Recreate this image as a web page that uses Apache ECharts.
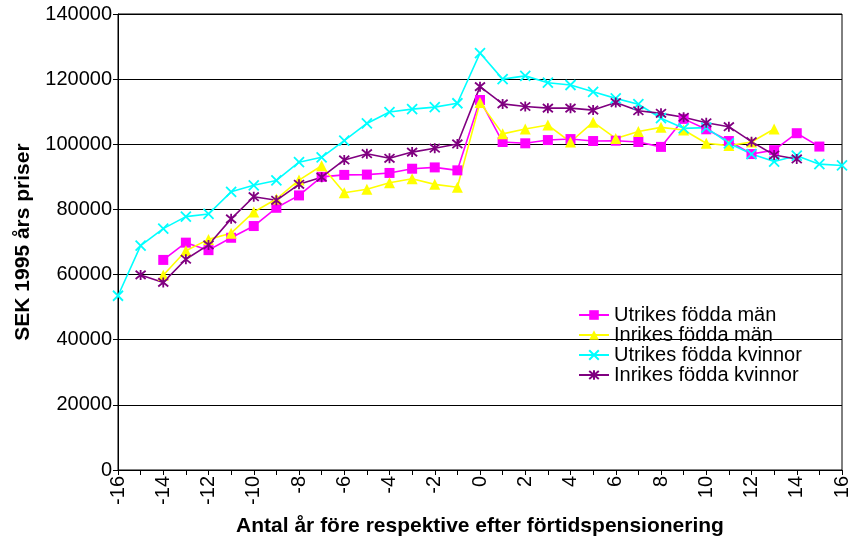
<!DOCTYPE html>
<html><head><meta charset="utf-8">
<script src="https://cdn.jsdelivr.net/npm/echarts@6/dist/echarts.min.js"></script>
<style>html,body{margin:0;padding:0;background:#fff}#c{width:853px;height:545px}</style>
</head><body><div id="c"></div>
<script>
const years = [-16,-15,-14,-13,-12,-11,-10,-9,-8,-7,-6,-5,-4,-3,-2,-1,0,1,2,3,4,5,6,7,8,9,10,11,12,13,14,15,16];
const utrikesMan = [null,null,64500,69800,67500,71300,74900,80500,84300,90000,90600,90700,91200,92500,92900,92000,113600,100700,100300,101300,101600,101000,101100,100700,99200,107800,104600,101000,97000,98200,103400,99300,null];
const inrikesMan = [null,null,59800,67300,70800,72700,79200,83200,89000,93400,85100,86200,88200,89400,87700,86800,112800,103200,104700,105900,100700,106800,101800,103900,105200,104400,100300,99600,100700,104700,null,null,null];
const utrikesKvinnor = [53500,68900,74100,77800,78600,85400,87400,88900,94500,96000,101100,106400,109900,110800,111400,112600,128000,120000,121000,118900,118200,116100,114100,112300,108000,104900,105100,100300,97000,94700,96500,93900,93500];
const inrikesKvinnor = [null,59900,57600,64700,69100,77100,83900,82800,87700,89900,95200,97100,95700,97600,98800,100100,117700,112400,111600,111100,111100,110500,112800,110300,109500,108300,106600,105400,100800,96700,95500,null,null];
const names = ['Utrikes födda män','Inrikes födda män','Utrikes födda kvinnor','Inrikes födda kvinnor'];

const pairs = arr => years.map((x,i)=>[x, arr[i]]);
const font = '"Liberation Sans", Arial, sans-serif';
const xPath = 'path://M0,0L10,10M10,0L0,10';
const starPath = 'path://M0,0L10,10M10,0L0,10M5,-1L5,11';

function mk(name, data, color, symbol, size, stroke){
  return {
    name, type:'line', data:pairs(data), connectNulls:false,
    symbol, symbolSize:size, showSymbol:true,
    lineStyle:{color, width:1.6},
    itemStyle: stroke ? {color:'rgba(0,0,0,0)', borderColor:color, borderWidth:1.8} : {color, borderColor:color, borderWidth:0},
    emphasis:{disabled:true}, animation:false, z: 2
  };
}

const chart = echarts.init(document.getElementById('c'));
chart.setOption({
  animation:false,
  grid:{left:118, right:11, top:14, bottom:75, show:true, borderColor:'#000', borderWidth:1},
  legend:{
    orient:'vertical', left:573, top:300, itemWidth:30, itemHeight:12, itemGap:0,
    textStyle:{fontFamily:font, fontSize:20, color:'#000', lineHeight:20},
    data:names
  },
  xAxis:{
    type:'value', min:-16, max:16, interval:2,
    name:'Antal år före respektive efter förtidspensionering',
    nameLocation:'middle', nameGap:46,
    nameTextStyle:{fontFamily:font, fontSize:21, fontWeight:'bold', color:'#000'},
    axisLine:{show:true, onZero:false, lineStyle:{color:'#000', width:1}},
    axisTick:{show:true, length:5, lineStyle:{color:'#000'}},
    minorTick:{show:true, splitNumber:2, length:5, lineStyle:{color:'#000'}},
    splitLine:{show:false},
    axisLabel:{rotate:90, fontFamily:font, fontSize:20, color:'#000', margin:6}
  },
  yAxis:{
    type:'value', min:0, max:140000, interval:20000,
    name:'SEK 1995 års priser', nameLocation:'middle', nameGap:84, nameRotate:90,
    nameTextStyle:{fontFamily:font, fontSize:21, fontWeight:'bold', color:'#000'},
    axisLine:{show:true, onZero:false, lineStyle:{color:'#000', width:1}},
    axisTick:{show:true, length:5, lineStyle:{color:'#000'}},
    splitLine:{show:true, lineStyle:{color:'#000', width:1}},
    axisLabel:{fontFamily:font, fontSize:20, color:'#000', margin:6, formatter: v => String(v)}
  },
  series:[
    mk(names[0], utrikesMan, '#FF00FF', 'rect', 10, false),
    mk(names[1], inrikesMan, '#FFFF00', 'triangle', 11, false),
    mk(names[2], utrikesKvinnor, '#00FFFF', xPath, 10, true),
    mk(names[3], inrikesKvinnor, '#800080', starPath, 10, true)
  ]
});
</script></body></html>
